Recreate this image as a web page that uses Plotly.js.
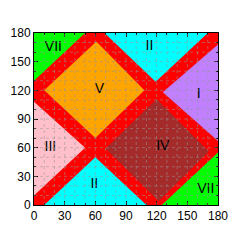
<!DOCTYPE html>
<html>
<head>
<meta charset="utf-8">
<script src="https://cdn.plot.ly/plotly-3.0.1.min.js"></script>
<style>html,body{margin:0;padding:0;background:#fff;}#chart{width:252px;height:252px;}</style>
</head>
<body>
<div id="chart"></div>
<script>
// Region polygons (x = angle 1, y = angle 2)
const regionNames = ["VII", "V", "II", "I", "III", "II", "IV", "VII"];
const regionColors = ["#00ff00", "#ffa500", "#00ffff", "#c080ff", "#ffc0cb", "#00ffff", "#a52a2a", "#00ff00"];
const regionX = [
  [0, 0, 50],
  [10, 61, 108, 60],
  [69, 119, 170],
  [126, 180, 180],
  [0, 0, 50],
  [10, 60, 110],
  [70, 120, 171, 122],
  [125, 180, 180]
];
const regionY = [
  [130, 180, 180],
  [120, 171, 120, 70],
  [180, 129, 180],
  [118, 168, 67],
  [10, 108, 60],
  [0, 50, 0],
  [59, 111, 56, 4],
  [0, 0, 55]
];
// Label positions
const labelX = [19, 64, 113, 161, 16, 59, 126, 168];
const labelY = [165, 121, 166, 116, 60, 21, 61, 16];
const tickVals = [0, 30, 60, 90, 120, 150, 180];
const gridVals = [10, 20, 30, 40, 50, 60, 70, 80, 90, 100, 110, 120, 130, 140, 150, 160, 170];

const traces = [];
for (let i = 0; i < regionX.length; i++) {
  traces.push({
    type: "scatter", mode: "lines",
    x: regionX[i], y: regionY[i],
    fill: "toself", fillcolor: regionColors[i],
    line: {width: 0, color: regionColors[i]},
    hoverinfo: "skip", showlegend: false
  });
}
traces.push({
  type: "scatter", mode: "text",
  x: labelX, y: labelY, text: regionNames,
  textfont: {family: "Liberation Sans, Arial, sans-serif", size: 14, color: "#000"},
  showlegend: false, hoverinfo: "skip"
});

const shapes = [];
gridVals.forEach(v => {
  shapes.push({type: "line", xref: "x", yref: "y", x0: v, x1: v, y0: 0, y1: 180, layer: "above",
    line: {color: "rgba(150,150,150,0.55)", width: 1, dash: "dot"}});
  shapes.push({type: "line", xref: "x", yref: "y", x0: 0, x1: 180, y0: v, y1: v, layer: "above",
    line: {color: "rgba(150,150,150,0.55)", width: 1, dash: "dot"}});
});

const axisCommon = {
  range: [0, 180], tickvals: tickVals, ticks: "inside", ticklen: 4, tickcolor: "#000",
  showline: true, linecolor: "#000", linewidth: 1, mirror: "ticks",
  showgrid: false, zeroline: false,
  minor: {dtick: 10, ticks: "inside", ticklen: 2, tickcolor: "#000"},
  tickfont: {family: "Liberation Sans, Arial, sans-serif", size: 12, color: "#000"},
  layer: "above traces", fixedrange: true
};

const layout = {
  width: 252, height: 252,
  margin: {l: 33.5, r: 33.5, t: 33, b: 47},
  paper_bgcolor: "#ffffff", plot_bgcolor: "#ff0000",
  xaxis: Object.assign({}, axisCommon),
  yaxis: Object.assign({}, axisCommon),
  shapes: shapes,
  showlegend: false
};

Plotly.newPlot("chart", traces, layout, {staticPlot: true, displayModeBar: false});
</script>
</body>
</html>
